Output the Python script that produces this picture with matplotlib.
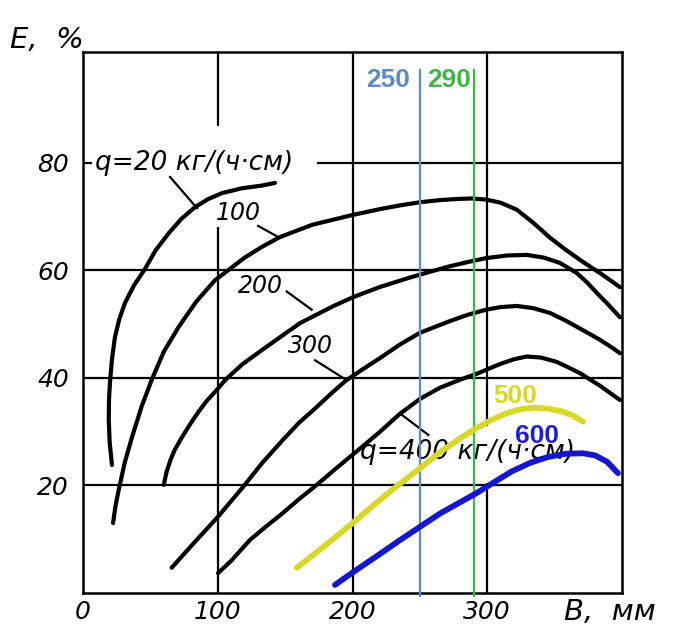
import matplotlib
matplotlib.use("Agg")
import matplotlib.pyplot as plt

plt.rcParams['font.family'] = ['DejaVu Sans']

# ---- data (B in mm, E in %) ----
q20_x = [21.5, 19.8, 19.1, 19.3, 20.0, 21.5, 23.7, 27.0, 31.2, 38.0, 46.0, 54.0, 63.8, 73.0, 83.1, 93.0, 103.2, 118.0, 132.8, 142.5]
q20_y = [23.8, 28.0, 32.2, 36.0, 39.1, 43.5, 47.6, 51.0, 54.0, 57.3, 60.3, 63.8, 67.0, 69.6, 71.8, 73.3, 74.4, 75.3, 75.8, 76.3]

q100_x = [22.3, 24.0, 26.5, 31.0, 36.4, 43.5, 51.2, 60.0, 71.0, 84.0, 98.0, 108.0, 120.0, 132.8, 146.0, 170.0, 199.6, 220.0, 235.0, 250.0, 265.0, 277.5, 288.0, 299.0, 310.0, 322.0, 334.0, 346.6, 358.0, 371.0, 385.0, 398.5]
q100_y = [13.0, 16.0, 19.2, 24.3, 29.0, 34.7, 39.8, 44.9, 49.5, 54.2, 58.2, 60.1, 62.4, 64.4, 66.2, 68.5, 70.3, 71.4, 72.1, 72.7, 73.1, 73.3, 73.4, 73.2, 72.6, 71.3, 68.9, 66.1, 63.9, 61.6, 59.3, 56.9]

q200_x = [59.9, 62.0, 65.0, 68.0, 73.5, 80.0, 86.0, 92.0, 99.4, 105.4, 118.0, 132.8, 148.0, 161.0, 173.4, 186.0, 200.0, 220.0, 242.7, 258.0, 272.4, 286.0, 299.0, 315.0, 329.5, 342.0, 354.0, 366.6, 374.0, 381.4, 390.0, 398.5]
q200_y = [20.1, 22.5, 24.8, 26.6, 29.0, 31.6, 33.8, 35.8, 37.8, 39.6, 42.5, 45.2, 47.9, 50.2, 51.8, 53.4, 55.0, 56.9, 58.7, 59.8, 60.8, 61.6, 62.3, 62.8, 62.9, 62.4, 61.4, 59.5, 57.8, 55.8, 53.6, 51.3]

q300_x = [65.8, 83.0, 100.2, 118.7, 133.0, 148.4, 160.0, 173.4, 185.0, 195.0, 208.0, 220.4, 235.0, 250.0, 272.4, 286.0, 299.0, 310.0, 322.0, 334.0, 346.6, 358.0, 371.0, 383.0, 393.0, 398.5]
q300_y = [4.7, 9.5, 14.2, 19.7, 24.2, 28.5, 31.6, 34.6, 37.3, 39.5, 41.7, 43.7, 46.2, 48.4, 50.6, 51.8, 52.7, 53.2, 53.4, 53.0, 52.1, 50.7, 48.9, 47.2, 45.6, 44.6]

q400_x = [100.2, 110.0, 124.0, 136.0, 148.4, 160.0, 173.4, 186.0, 198.0, 210.0, 220.4, 235.0, 250.0, 265.0, 280.0, 292.4, 309.5, 320.0, 329.3, 340.0, 351.5, 360.0, 368.8, 384.0, 398.5]
q400_y = [3.7, 6.0, 9.9, 12.4, 14.9, 17.4, 20.1, 22.8, 25.3, 27.8, 30.0, 33.3, 36.1, 38.2, 39.7, 40.8, 42.6, 43.5, 44.0, 43.8, 43.0, 42.0, 40.9, 38.5, 35.9]

q500_x = [158.6, 170.0, 185.0, 200.0, 215.0, 230.0, 250.0, 265.0, 280.0, 292.2, 303.0, 315.0, 325.0, 335.0, 345.0, 355.0, 363.0, 371.0]
q500_y = [4.7, 6.9, 9.9, 13.0, 16.2, 19.3, 23.2, 26.2, 28.8, 30.7, 32.2, 33.5, 34.2, 34.5, 34.3, 33.8, 33.1, 31.9]

q600_x = [187.0, 200.0, 220.0, 235.0, 250.0, 265.0, 280.0, 292.2, 305.0, 318.0, 331.7, 345.0, 358.0, 371.0, 380.0, 389.0, 397.0]
q600_y = [1.5, 3.8, 7.2, 9.8, 12.3, 14.8, 16.9, 18.6, 20.6, 22.6, 24.2, 25.3, 25.9, 26.0, 25.6, 24.4, 22.3]

v_lines = [250, 290]
v_labels = ['250', '290']

x_ticks = [0, 100, 200, 300]
y_ticks = [20, 40, 60, 80]

# ---- figure ----
W, H = 676, 626
fig = plt.figure(figsize=(W / 100, H / 100), dpi=100)
ax = fig.add_axes([83 / W, 1 - 593 / H, 539 / W, 541 / H])
ax.set_xlim(0, 400)
ax.set_ylim(0, 100.65)

GRID_LW = 1.6
# grid (with gaps as in the original drawing)
ax.vlines(100, 0, 68.0, color='black', lw=GRID_LW, zorder=1)
ax.vlines(100, 86.8, 100.65, color='black', lw=GRID_LW, zorder=1)
ax.vlines(200, 0, 100.65, color='black', lw=GRID_LW, zorder=1)
ax.vlines(300, 0, 20.5, color='black', lw=GRID_LW, zorder=1)
ax.vlines(300, 31.0, 100.65, color='black', lw=GRID_LW, zorder=1)
for yv in [20, 40, 60]:
    ax.hlines(yv, 0, 400, color='black', lw=GRID_LW, zorder=1)
ax.hlines(80, 0, 7, color='black', lw=GRID_LW, zorder=1)
ax.hlines(80, 173.5, 400, color='black', lw=GRID_LW, zorder=1)

for s in ax.spines.values():
    s.set_linewidth(1.8)
    s.set_color('black')

CURVE_LW = 3.0
for xs, ys in [(q20_x, q20_y), (q100_x, q100_y), (q200_x, q200_y),
               (q300_x, q300_y), (q400_x, q400_y)]:
    ax.plot(xs, ys, color='black', lw=CURVE_LW, solid_capstyle='round',
            solid_joinstyle='round', zorder=3)

# leader lines for labels
LEAD_LW = 1.6
leaders = [((64.6, 84.6), (77.4, 71.6)), ((130, 145), (68.3, 66.2)),
           ((151.2, 169.7), (56.1, 52.7)), ((172.2, 195.7), (43.3, 39.6)),
           ((235.3, 256.3), (33.4, 29.4))]
for lx, ly in leaders:
    ax.plot(lx, ly, color='black', lw=LEAD_LW, zorder=3)

num_kw = dict(style='italic', fontsize=17, color='black', zorder=4)
q_kw = dict(style='italic', fontsize=19, color='black', zorder=4)
ax.text(8.9, 80, 'q=20 кг/(ч·см)', ha='left', va='center', **q_kw)
ax.text(115, 70.7, '100', ha='center', va='center', **num_kw)
ax.text(132, 57.1, '200', ha='center', va='center', **num_kw)
ax.text(168.5, 45.9, '300', ha='center', va='center', **num_kw)
ax.text(205.6, 26.3, 'q=400 кг/(ч·см)', ha='left', va='center', **q_kw)

# coloured vertical reference lines
v_colors = ['#5b8dc4', '#3fb548']
for xv, c in zip(v_lines, v_colors):
    ax.plot([xv, xv], [-0.5, 97.3], color=c, lw=1.6, zorder=5, clip_on=False)
bold_kw = dict(fontsize=19, fontweight='bold', family='Liberation Sans')
ax.text(242.5, 95.4, v_labels[0], ha='right', va='center', color=v_colors[0],
        zorder=6, **bold_kw)
ax.text(255.3, 95.4, v_labels[1], ha='left', va='center', color=v_colors[1],
        zorder=6, **bold_kw)

# coloured curves
ax.plot(q500_x, q500_y, color='#d8d82a', lw=4.2, solid_capstyle='round',
        solid_joinstyle='round', zorder=6)
ax.plot(q600_x, q600_y, color='#1616cc', lw=4.2, solid_capstyle='round',
        solid_joinstyle='round', zorder=6)
ax.text(304.3, 36.7, '500', ha='left', va='center', color='#d8d82a',
        zorder=7, **bold_kw)
ax.text(320.6, 29.2, '600', ha='left', va='center', color='#1f1fd0',
        zorder=7, **bold_kw)

# ticks
ax.set_xticks(x_ticks)
ax.set_xticklabels([str(v) for v in x_ticks], style='italic', fontsize=18)
ax.set_yticks(y_ticks)
ax.set_yticklabels([str(v) for v in y_ticks], style='italic', fontsize=18)
ax.tick_params(axis='both', length=0)
ax.tick_params(axis='x', pad=5)
ax.tick_params(axis='y', pad=10)

# axis titles
fig.text(47 / W, 1 - 40 / H, 'E,  %', ha='center', va='center',
         style='italic', fontsize=21)
fig.text(610 / W, 1 - 612 / H, 'B,  мм', ha='center', va='center',
         style='italic', fontsize=21)

fig.savefig('out.png', dpi=100)
